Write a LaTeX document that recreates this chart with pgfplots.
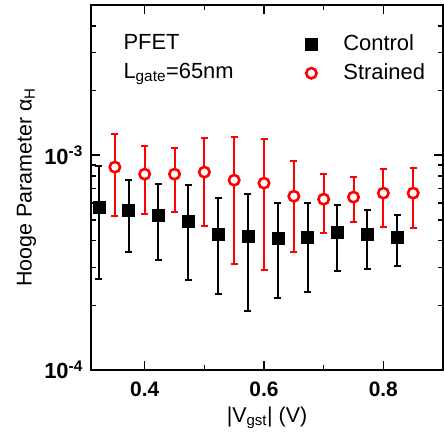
\documentclass[border=0pt]{standalone}
\usepackage{fontspec}
\setmainfont{Liberation Sans}
\usepackage{pgfplots}
\pgfplotsset{compat=1.18}
\usepackage{pgfplotstable}

\pgfplotstableread{
x y top bot
0.323 5.73e-4 8.9e-4 2.65e-4
0.373 5.55e-4 7.65e-4 3.54e-4
0.423 5.26e-4 7.33e-4 3.25e-4
0.473 4.93e-4 7.25e-4 2.62e-4
0.523 4.29e-4 6.30e-4 2.26e-4
0.573 4.20e-4 6.59e-4 1.88e-4
0.623 4.10e-4 5.98e-4 2.16e-4
0.673 4.15e-4 5.98e-4 2.31e-4
0.723 4.38e-4 5.85e-4 2.89e-4
0.773 4.29e-4 5.55e-4 2.95e-4
0.823 4.16e-4 5.26e-4 3.05e-4
}\control

\pgfplotstableread{
x y top bot
0.35 8.80e-4 1.25e-3 5.20e-4
0.40 8.16e-4 1.10e-3 5.32e-4
0.45 8.16e-4 1.08e-3 5.43e-4
0.50 8.34e-4 1.20e-3 4.67e-4
0.55 7.65e-4 1.22e-3 3.11e-4
0.60 7.41e-4 1.19e-3 2.92e-4
0.65 6.44e-4 9.38e-4 3.54e-4
0.70 6.24e-4 8.16e-4 4.34e-4
0.75 6.38e-4 7.90e-4 4.88e-4
0.80 6.66e-4 8.60e-4 4.62e-4
0.85 6.66e-4 8.70e-4 4.57e-4
}\strained

\begin{document}
\fontsize{21}{25}\selectfont
\begin{tikzpicture}
\begin{axis}[name=ax, scale only axis, width=352bp, height=365bp,
  ymode=log, xmin=0.31, xmax=0.9, ymin=1e-4, ymax=5e-3,
  xtick={0.4,0.6,0.8}, xticklabels={\textbf{0.4},\textbf{0.6},\textbf{0.8}},
  minor xtick={0.5,0.7},
  ytick={1e-4,1e-3},
  yticklabels={\textbf{10\textsuperscript{-4}},\textbf{10\textsuperscript{-3}}},
  minor ytick={2e-4,3e-4,4e-4,5e-4,6e-4,7e-4,8e-4,9e-4,2e-3,3e-3,4e-3},
  tick align=inside, major tick length=9bp, minor tick length=5bp,
  axis line style={line width=1.5bp},
  every tick/.style={line width=1.5bp, black},
  xticklabel style={font=\fontsize{21}{25}\selectfont, yshift=-5bp},
  yticklabel style={font=\fontsize{22}{26}\selectfont, xshift=-1bp},
  xlabel={|V\textsubscript{gst}| (V)},
  ylabel={Hooge Parameter α\textsubscript{H}},
  label style={font=\fontsize{21.5}{25}\selectfont},
  xlabel style={yshift=4bp},
  ylabel style={yshift=-6bp},
  legend style={draw=none, fill=none, at={(rel axis cs:0.60,0.93)}, anchor=north west,
    font=\fontsize{22}{26}\selectfont, row sep=6bp},
  legend cell align=left,
  legend image code/.code={\draw[#1] plot coordinates {(0bp,0bp)}; \path[draw=none,fill=none] (0bp,0bp) -- (30bp,0bp);},
  error bars/y dir=both, error bars/y explicit,
]
\addplot[only marks, mark=square*, mark size=6bp, black,
  error bars/.cd, error bar style={line width=2bp, black},
  error mark options={rotate=90, line width=2bp, mark size=3.5bp, black}]
  table[x=x, y=y, y error plus expr=\thisrow{top}-\thisrow{y}, y error minus expr=\thisrow{y}-\thisrow{bot}] {\control};
\addlegendentry{Control}
\addplot[only marks, mark=*, mark size=5.2bp, red, line width=2.6bp, fill=white,
  error bars/.cd, error bar style={line width=2bp, red},
  error mark options={rotate=90, line width=2bp, mark size=3.5bp, red}]
  table[x=x, y=y, y error plus expr=\thisrow{top}-\thisrow{y}, y error minus expr=\thisrow{y}-\thisrow{bot}] {\strained};
\addlegendentry{Strained}
\node[anchor=west, font=\fontsize{22}{26}\selectfont] at (rel axis cs:0.072,0.899) {PFET};
\node[anchor=west, font=\fontsize{22}{26}\selectfont] at (rel axis cs:0.072,0.812) {L\textsubscript{gate}=65nm};
\end{axis}
\pgfresetboundingbox
\path ([xshift=-91bp,yshift=-62bp]ax.south west) rectangle ([xshift=1bp,yshift=5bp]ax.north east);
\end{tikzpicture}
\end{document}
